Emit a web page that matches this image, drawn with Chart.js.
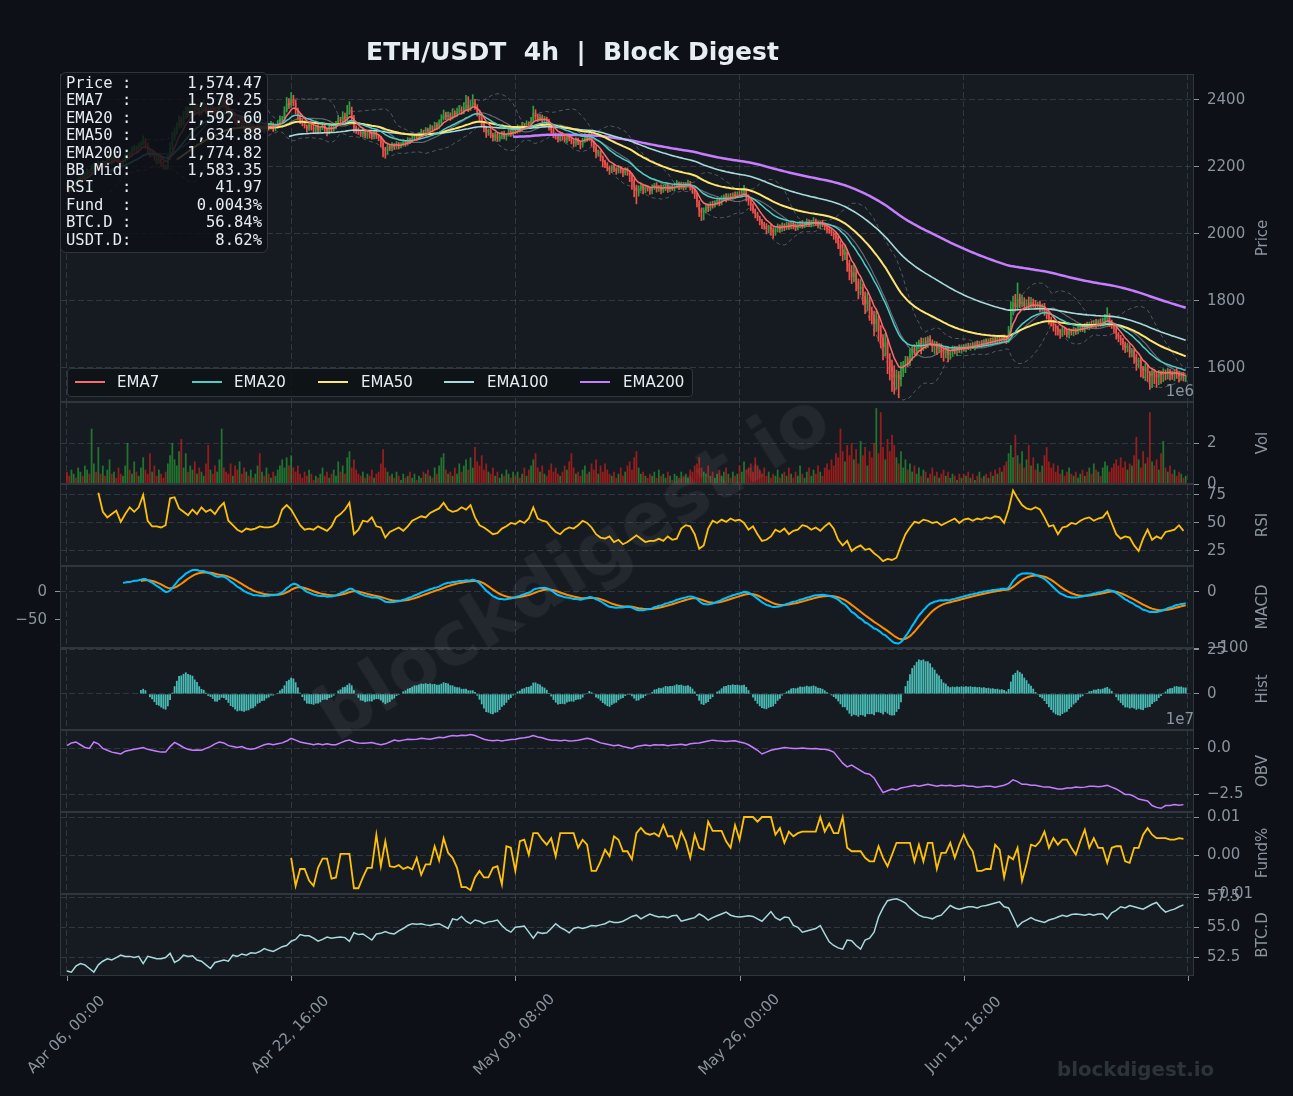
<!DOCTYPE html>
<html>
<head>
<meta charset="utf-8">
<script src="https://cdn.jsdelivr.net/npm/chart.js@4.4.1/dist/chart.umd.min.js"></script>
<style>
  html, body { margin: 0; padding: 0; background: #0d1117; }
  #wrap { position: relative; width: 1293px; height: 1096px; overflow: hidden; background: #0d1117; font-family: "DejaVu Sans", sans-serif; }
  #wrap canvas { position: absolute; left: 0; }
  #title { position: absolute; left: 0; width: 1145px; top: 36px; line-height: 32px; text-align: center; font-weight: bold; font-size: 25px; color: #e6edf3; white-space: pre; z-index: 5; }
  #info { position: absolute; left: 60px; top: 72px; margin: 0; padding: 2px 5px 3px 5px; font-family: "DejaVu Sans Mono", monospace; font-size: 15.5px; line-height: 17.4px; color: #e6edf3; background: rgba(13,17,23,0.84); border: 1px solid #30363d; border-radius: 6px; white-space: pre; z-index: 5; }
  #legend { position: absolute; left: 67px; top: 368px; width: 624px; height: 27px; background: rgba(13,17,23,0.8); border: 1px solid #30363d; border-radius: 4px; z-index: 5; }
  #legend .ln { position: absolute; width: 30px; }
  #legend .lt { position: absolute; top: 4px; font-size: 15px; line-height: 18px; color: #e6edf3; }
  #wm { position: absolute; left: 572px; top: 565px; transform: translate(-50%, -50%) rotate(-32deg); font-weight: bold; font-size: 74px; color: rgba(255,255,255,0.055); white-space: nowrap; z-index: 6; pointer-events: none; }
  #wm2 { position: absolute; left: 1057px; top: 1058px; line-height: 24px; font-weight: bold; font-size: 19.8px; color: #2d333b; z-index: 6; }
</style>
</head>
<body>
<div id="wrap">
  <div id="title">ETH/USDT  4h  |  Block Digest</div>
  <pre id="info"></pre>
  <div id="legend"></div>
  <div id="wm">blockdigest.io</div>
  <div id="wm2">blockdigest.io</div>
</div>
<script>
// ETH/USDT 4h candles (500)
const firstOpen = 2146;
const closes = [
  2140, 2132, 2145, 2152, 2148, 2160, 2171, 2165, 2178, 2186,
  2182, 2195, 2204, 2199, 2210, 2206, 2214, 2208, 2221, 2226,
  2218, 2230, 2224, 2212, 2208, 2219, 2232, 2240, 2236, 2251,
  2258, 2249, 2262, 2270, 2281, 2266, 2250, 2238, 2243, 2229,
  2218, 2224, 2210, 2203, 2198, 2226, 2258, 2287, 2305, 2322,
  2341, 2330, 2352, 2368, 2359, 2372, 2381, 2366, 2375, 2362,
  2370, 2384, 2371, 2363, 2377, 2368, 2359, 2372, 2390, 2401,
  2388, 2376, 2362, 2349, 2355, 2338, 2330, 2341, 2327, 2318,
  2325, 2316, 2322, 2309, 2318, 2326, 2314, 2320, 2311, 2324,
  2318, 2327, 2315, 2322, 2330, 2343, 2345, 2368, 2390, 2384,
  2402, 2391, 2370, 2352, 2338, 2330, 2322, 2314, 2326, 2318,
  2311, 2320, 2309, 2316, 2324, 2313, 2305, 2318, 2312, 2320,
  2328, 2342, 2336, 2351, 2345, 2362, 2370, 2348, 2318, 2310,
  2305, 2298, 2307, 2293, 2302, 2296, 2290, 2301, 2294, 2286,
  2272, 2255, 2248, 2262, 2257, 2266, 2259, 2270, 2262, 2268,
  2275, 2270, 2281, 2277, 2286, 2292, 2288, 2297, 2304, 2300,
  2311, 2306, 2318, 2314, 2325, 2320, 2331, 2344, 2356, 2349,
  2355, 2348, 2362, 2357, 2366, 2372, 2365, 2378, 2384, 2374,
  2386, 2392, 2380, 2362, 2348, 2329, 2316, 2302, 2310, 2296,
  2289, 2298, 2284, 2293, 2301, 2290, 2297, 2305, 2299, 2310,
  2306, 2318, 2312, 2324, 2319, 2330, 2326, 2338, 2362, 2351,
  2344, 2350, 2339, 2345, 2336, 2322, 2310, 2298, 2291, 2284,
  2296, 2289, 2280, 2292, 2285, 2278, 2270, 2281, 2273, 2266,
  2278, 2290, 2284, 2296, 2272, 2258, 2241, 2246, 2229, 2215,
  2208, 2196, 2190, 2202, 2195, 2188, 2197, 2190, 2183, 2192,
  2185, 2174, 2158, 2141, 2128, 2136, 2144, 2132, 2140, 2135,
  2128, 2139, 2146, 2134, 2141, 2130, 2137, 2145, 2133, 2140,
  2136, 2144, 2150, 2141, 2148, 2139, 2146, 2152, 2140, 2131,
  2118, 2096, 2072, 2064, 2070, 2081, 2077, 2090, 2086, 2095,
  2101, 2094, 2106, 2112, 2105, 2114, 2109, 2118, 2113, 2120,
  2116, 2124, 2130, 2112, 2098, 2085, 2072, 2060, 2049, 2038,
  2030, 2024, 2016, 2022, 2011, 2005, 2014, 2021, 2015, 2026,
  2019, 2028, 2022, 2031, 2025, 2018, 2027, 2033, 2024, 2030,
  2036, 2028, 2035, 2041, 2032, 2026, 2034, 2029, 2021, 2015,
  2012, 2003, 1996, 1988, 1970, 1955, 1938, 1946, 1910, 1888,
  1872, 1885, 1858, 1836, 1842, 1815, 1790, 1804, 1772, 1758,
  1731, 1746, 1712, 1690, 1662, 1675, 1628, 1604, 1589, 1572,
  1580, 1566, 1592, 1608, 1626, 1619, 1641, 1658, 1650, 1668,
  1676, 1662, 1681, 1670, 1688, 1679, 1664, 1672, 1658, 1667,
  1651, 1645, 1656, 1640, 1648, 1659, 1652, 1661, 1655, 1664,
  1658, 1667, 1662, 1670, 1664, 1673, 1668, 1676, 1671, 1680,
  1674, 1683, 1678, 1686, 1681, 1690, 1684, 1693, 1688, 1682,
  1712, 1768, 1795, 1782, 1806, 1790, 1798, 1785, 1794, 1788,
  1797, 1791, 1784, 1790, 1779, 1785, 1772, 1760, 1748, 1737,
  1726, 1718, 1712, 1706, 1715, 1709, 1701, 1712, 1706, 1714,
  1708, 1717, 1723, 1716, 1728, 1722, 1731, 1726, 1735, 1729,
  1738, 1732, 1741, 1748, 1752, 1736, 1728, 1718, 1702, 1690,
  1684, 1672, 1660, 1665, 1648, 1652, 1634, 1618, 1624, 1601,
  1592, 1603, 1585, 1576, 1590, 1581, 1572, 1586, 1579, 1588,
  1582, 1591, 1584, 1578, 1590, 1583, 1576, 1580, 1571, 1574.47
];
// wick length above / below the body
const wickUp = [
  6,4,8,5,3,7,9,4,6,8,5,10,7,4,9,5,6,3,8,7,4,9,5,3,6,
  5,8,10,4,9,7,5,8,6,12,4,6,5,7,3,5,8,4,6,3,9,14,16,12,10,
  12,8,15,11,9,14,18,7,12,10,8,16,6,9,13,7,10,8,15,20,9,6,8,5,7,
  6,9,5,8,4,7,5,9,6,4,8,10,5,7,4,6,9,5,7,8,10,6,12,18,14,
  20,12,8,6,7,5,8,4,6,5,7,4,6,5,8,4,3,6,5,7,8,12,6,14,10,
  22,25,9,6,5,7,4,8,5,6,4,7,5,6,3,5,8,4,6,5,7,4,6,3,5,
  6,4,7,5,8,4,6,5,9,6,7,5,8,4,9,6,10,12,14,8,9,7,12,6,10,
  11,8,14,30,26,12,24,10,6,8,5,7,6,4,8,5,6,4,7,5,6,3,8,5,7,
  6,8,5,9,6,8,5,10,20,9,7,8,5,6,4,7,5,6,4,8,5,7,4,6,5,
  6,4,7,5,3,8,10,6,12,5,4,6,5,3,4,6,5,7,4,6,3,8,5,4,6,
  5,4,6,7,5,8,9,5,7,4,6,8,5,7,4,6,9,5,7,4,6,8,10,5,7,
  6,8,9,5,4,3,5,4,6,8,7,9,6,8,5,7,6,8,5,9,6,7,5,8,6,
  7,10,15,6,5,4,6,3,5,4,6,5,7,4,6,8,5,9,6,7,5,8,6,7,5,
  6,8,5,7,4,9,6,5,8,4,6,5,7,4,3,5,6,4,8,5,10,15,20,8,12,
  18,25,10,8,22,9,12,20,8,10,12,24,9,15,10,28,12,15,20,18,14,10,25,12,9,
  8,15,10,12,9,7,14,8,10,6,9,5,8,6,7,5,9,6,8,5,7,6,4,8,5,
  6,5,7,4,6,5,8,4,6,5,7,4,6,5,8,4,7,5,6,4,12,30,20,25,48,
  15,20,12,10,18,14,9,11,7,10,6,8,5,7,4,6,5,8,4,9,5,7,6,4,8,
  5,7,6,8,5,9,6,8,7,10,6,9,8,12,28,10,7,6,5,4,8,5,6,9,5,
  7,5,8,6,9,4,10,7,5,8,6,9,7,5,10,6,8,5,7,4,9,6,5,7,4
];
const wickDn = [
  8,12,6,9,5,4,7,6,5,8,9,4,6,7,5,8,6,9,4,5,10,6,8,12,7,
  6,5,8,7,4,6,9,5,7,4,10,12,8,6,9,10,7,8,9,6,5,4,6,8,7,
  6,12,5,8,10,7,6,11,5,9,7,5,10,8,6,9,12,5,7,6,10,8,12,9,7,
  10,8,6,9,12,7,10,5,12,6,8,9,7,10,6,8,5,9,7,6,5,8,6,4,9,
  6,8,12,10,9,7,6,10,5,8,9,6,10,7,5,9,12,6,8,5,6,4,7,5,8,
  6,5,9,15,10,8,7,9,6,8,10,7,6,9,8,12,25,22,10,8,9,7,6,8,5,
  6,8,5,7,4,6,8,5,6,4,7,5,6,8,4,7,5,6,4,8,6,9,5,7,6,
  5,8,6,7,9,6,5,8,10,12,9,11,14,8,9,12,10,8,7,9,6,10,5,8,6,
  7,5,8,4,6,5,7,4,6,9,8,6,10,7,8,12,9,11,8,10,7,9,6,8,7,
  9,10,8,6,12,7,5,8,6,10,12,14,9,11,15,10,8,12,7,9,10,6,8,12,7,
  10,18,25,30,38,15,8,12,9,7,10,8,6,9,7,10,6,8,9,7,6,8,5,9,7,
  8,6,5,9,10,12,15,20,24,22,8,10,7,9,6,8,10,7,6,9,5,8,6,7,5,
  6,5,8,14,12,15,10,12,9,11,14,10,16,12,15,18,9,8,10,7,9,6,8,7,10,
  8,6,9,7,5,8,6,7,9,6,8,10,7,9,12,10,8,12,15,14,20,18,15,22,25,
  20,15,28,30,18,25,28,20,30,26,35,22,32,30,38,25,45,40,59,50,35,55,20,18,22,
  15,12,18,10,14,12,20,10,12,9,11,15,22,18,12,20,25,15,22,14,12,10,15,9,11,
  8,10,7,9,6,10,8,7,9,6,8,7,9,5,8,6,10,7,8,9,6,8,10,12,9,
  10,8,12,9,11,8,10,7,9,12,10,15,14,18,12,16,20,14,18,12,10,9,12,8,10,
  8,6,9,7,10,6,8,7,5,9,6,8,7,9,6,12,10,14,16,12,15,18,14,12,16,
  15,20,25,18,28,22,30,25,40,35,28,30,22,25,20,18,15,20,12,16,14,18,12,10,12
];
// volume, millions
const volumes = [
  0.6,0.4,0.7,0.5,0.3,0.8,0.6,0.4,0.9,0.7,0.5,2.7,1.0,0.6,1.8,0.5,0.9,0.4,0.7,1.2,0.5,0.6,0.3,0.8,0.5,
  0.4,0.9,2.0,0.7,0.5,1.1,0.6,0.4,0.8,1.3,0.7,0.5,1.5,0.6,0.9,0.4,0.7,0.5,0.3,0.6,1.0,1.4,2.0,1.2,0.9,
  1.6,2.2,0.8,1.5,0.6,0.9,0.7,1.1,0.5,0.8,0.6,0.4,1.0,1.9,0.7,0.5,0.9,0.6,1.2,2.7,0.8,0.6,0.5,1.0,0.4,
  0.9,0.7,1.1,0.5,0.8,0.6,0.4,0.7,0.3,0.5,0.9,1.5,0.6,0.4,0.8,0.5,0.3,0.6,0.4,0.7,0.9,1.2,0.8,1.3,0.9,
  1.4,0.8,0.6,0.9,0.5,0.3,0.6,0.4,0.7,0.5,0.2,0.4,0.3,0.5,0.8,0.4,0.6,0.3,0.5,0.7,0.4,1.1,0.6,0.9,0.5,
  1.3,1.6,0.8,1.2,0.7,0.5,0.4,0.6,0.3,0.5,0.4,0.7,0.3,0.5,0.6,1.0,1.7,0.8,0.6,0.4,0.5,0.3,0.6,0.4,0.2,
  0.5,0.3,0.4,0.6,0.3,0.5,0.2,0.4,0.3,0.6,0.5,0.7,0.4,0.3,0.8,0.5,0.9,1.3,1.5,0.7,0.5,0.6,0.4,0.8,0.5,
  1.0,0.6,0.9,1.2,0.7,1.3,0.8,1.8,1.1,0.9,1.4,0.7,1.0,0.6,0.5,0.8,0.4,0.6,0.3,0.5,0.4,0.7,0.5,0.3,0.6,
  0.4,0.6,0.3,0.5,0.8,0.4,0.7,0.9,1.2,1.5,0.8,0.6,0.9,0.5,0.4,0.7,1.0,0.6,0.8,0.5,0.4,0.6,0.9,0.7,1.1,
  1.5,0.8,0.5,0.6,0.4,0.7,0.9,0.5,0.6,1.0,0.7,1.2,0.5,0.9,0.6,1.0,0.7,0.5,0.4,0.6,0.3,0.5,0.8,0.4,0.6,
  0.9,1.1,0.7,1.3,1.6,0.8,0.5,0.6,0.4,0.3,0.5,0.4,0.6,0.3,0.7,0.4,0.5,0.3,0.6,0.4,0.2,0.5,0.4,0.3,0.6,
  0.4,0.5,0.3,0.7,0.6,0.9,1.0,1.3,0.8,0.6,0.5,0.9,0.4,0.6,0.3,0.5,0.7,0.4,0.6,0.8,0.5,0.3,0.6,0.4,0.5,
  0.9,0.6,1.1,0.7,0.8,1.0,0.6,1.3,0.9,0.7,0.5,0.8,0.4,0.6,0.3,0.5,0.4,0.7,0.3,0.5,0.6,0.4,0.8,0.5,0.3,
  0.6,0.4,0.9,0.5,0.3,0.6,0.8,0.4,0.7,0.5,0.9,0.6,0.4,0.8,1.0,0.7,1.2,0.9,1.5,1.3,2.7,1.6,1.1,1.9,1.4,
  2.0,1.2,1.7,1.0,2.1,1.4,1.8,0.9,1.6,1.3,2.0,3.7,1.5,3.5,1.8,1.2,2.2,1.6,2.4,1.9,1.3,1.0,1.6,0.8,1.2,
  0.7,1.0,0.6,0.9,0.5,0.8,0.4,0.7,0.6,0.3,0.5,0.8,0.4,0.6,0.3,0.5,0.7,0.4,0.6,0.3,0.5,0.4,0.2,0.5,0.3,
  0.5,0.4,0.6,0.3,0.5,0.2,0.4,0.6,0.3,0.4,0.5,0.3,0.6,0.4,0.7,0.5,0.8,0.6,0.9,1.1,1.5,1.9,1.3,2.4,1.4,
  1.0,1.6,0.8,1.2,1.9,0.9,1.3,0.7,1.0,0.6,0.9,1.4,1.8,1.1,0.8,1.0,0.6,0.9,0.5,0.7,0.4,0.6,0.8,0.5,0.4,
  0.6,0.3,0.5,0.7,0.4,0.6,0.8,0.5,1.0,0.7,0.6,0.4,0.8,1.1,0.9,0.6,0.8,1.0,1.2,0.9,1.3,0.8,1.1,0.7,1.0,
  0.9,1.4,2.3,1.2,0.8,1.6,1.0,1.3,3.5,1.1,0.9,1.2,0.7,1.5,2.1,0.8,0.6,0.9,0.5,0.7,0.4,0.6,0.5,0.3,0.4
];
// RSI(14), one value every 2 candles from candle 14
const rsiStart = 14;
const rsiLine = [
  77,60,55,58,61,51,58,64,60,64,75,52,47,47,46,48,72,73,
  63,60,57,62,58,64,60,62,58,64,68,52,48,44,42,45,44,45,47,46,46,47,50,62,66,
  62,55,48,44,45,44,47,45,43,47,55,58,62,68,40,44,52,51,55,47,46,37,42,44,46,43,47,
  52,54,56,55,59,61,63,68,62,60,61,64,62,66,55,48,46,43,40,41,45,47,50,
  49,52,50,54,64,54,52,51,46,42,40,44,46,45,48,52,50,46,40,37,36,38,33,35,31,33,36,39,
  36,33,34,34,36,34,38,35,36,45,48,47,40,27,30,45,52,50,53,51,54,52,53,
  50,44,47,40,34,35,38,44,42,45,40,43,44,48,47,44,46,43,47,50,
  45,35,30,34,25,28,30,26,27,23,20,16,18,17,19,30,40,46,51,
  50,53,52,50,51,48,50,52,54,50,53,54,52,54,53,55,54,56,55,50,
  62,79,72,66,63,62,64,62,55,47,48,40,46,47,50,49,52,54,55,52,54,55,60,50,40,36,
  38,37,30,25,36,44,35,38,36,42,43,44,48,43
];
// OBV, units of 1e7, one value every 2 candles
const obvLine = [
  0.15,0.3,0.35,0.2,0.05,0.0,0.35,0.25,0.0,-0.1,-0.2,-0.25,-0.3,-0.15,-0.1,-0.05,0.0,0.05,-0.05,-0.1,-0.15,-0.2,-0.2,0.1,0.33,
  0.2,0.05,-0.05,-0.1,-0.08,-0.1,0.0,0.1,0.25,0.35,0.3,0.15,0.1,0.05,0.1,0.0,-0.05,0.0,0.1,0.2,0.25,0.2,0.25,0.3,0.4,
  0.55,0.45,0.35,0.3,0.25,0.2,0.25,0.2,0.25,0.2,0.2,0.3,0.4,0.45,0.35,0.3,0.28,0.3,0.32,0.25,0.2,0.25,0.35,0.45,0.4,
  0.45,0.5,0.48,0.5,0.55,0.52,0.5,0.55,0.6,0.58,0.65,0.7,0.68,0.72,0.7,0.75,0.7,0.6,0.5,0.45,0.42,0.45,0.4,0.45,0.48,
  0.5,0.55,0.58,0.62,0.7,0.62,0.58,0.5,0.45,0.45,0.42,0.45,0.4,0.42,0.45,0.5,0.55,0.5,0.4,0.3,0.25,0.2,0.15,0.18,0.1,
  0.05,0.0,0.1,0.15,0.18,0.15,0.2,0.18,0.2,0.15,0.18,0.2,0.22,0.18,0.25,0.28,0.3,0.35,0.4,0.45,0.42,0.4,0.38,0.4,0.42,
  0.35,0.3,0.2,0.05,-0.1,-0.3,-0.2,-0.1,-0.05,0.0,0.05,0.02,0.0,0.0,0.02,0.0,-0.02,0.0,-0.05,-0.05,-0.1,-0.2,-0.5,-0.8,-1.0,
  -0.9,-1.05,-1.2,-1.35,-1.4,-1.6,-2.0,-2.4,-2.3,-2.2,-2.25,-2.15,-2.1,-2.05,-2.0,-2.05,-2.0,-1.95,-2.0,-2.05,-2.0,-2.02,-2.0,-2.05,-2.02,
  -2.0,-2.05,-2.05,-2.1,-2.08,-2.05,-2.05,-2.1,-2.05,-2.0,-1.9,-1.7,-1.8,-1.95,-1.95,-2.0,-2.0,-2.05,-2.1,-2.1,-2.15,-2.2,-2.2,-2.15,-2.15,
  -2.1,-2.12,-2.1,-2.05,-2.05,-2.08,-2.05,-2.0,-2.1,-2.2,-2.35,-2.5,-2.5,-2.6,-2.75,-2.8,-2.85,-3.1,-3.2,-3.25,-3.1,-3.1,-3.05,-3.08,-3.05
];
// funding rate in units of 0.0001 %, every 2 candles from candle 100
const fundStart = 100;
const fundBp = [
  -6,-79,-35,-35,-65,-79,-32,-8,-8,-60,-57,4,4,4,-85,-85,-57,-32,-32,54,
  -28,37,-28,-30,-25,-35,-30,-36,-6,-50,-23,-23,24,-13,45,7,-6,-32,-82,-82,
  -90,-57,-40,-57,-57,-32,-28,-75,24,20,-40,37,41,2,58,58,41,28,45,-2,
  58,58,58,58,20,41,28,-40,-40,-15,15,-2,50,41,11,11,-10,58,72,58,
  54,58,50,79,50,50,20,62,37,-6,54,20,15,88,64,64,64,37,20,79,
  41,100,100,100,88,100,100,100,54,71,33,62,50,58,62,62,62,62,100,62,
  83,58,58,100,20,11,11,11,-6,-15,-15,24,-6,-28,2,33,33,33,33,-15,
  28,-15,33,33,-35,7,7,33,-6,28,54,28,11,-40,-40,-35,-35,28,15,-57,
  -2,-10,20,-66,-23,28,24,37,62,20,45,28,41,41,20,2,37,67,20,45,
  20,20,-19,20,24,24,-15,-19,20,20,54,71,54,45,45,45,41,41,45,43
];
// BTC dominance %, every 2 candles
const btcDom = [
  51.4,51.3,51.8,52.0,51.9,51.6,51.3,51.9,52.2,52.4,52.3,52.5,52.7,52.6,52.6,52.5,52.6,52.0,52.6,52.5,52.4,52.4,52.5,52.85,52.1,
  52.3,52.7,52.6,52.65,52.3,52.2,51.9,51.6,52.1,52.2,52.3,52.2,52.7,52.6,52.8,52.7,52.9,52.85,53.0,53.25,53.1,53.0,53.2,53.4,53.5,
  53.85,54.0,54.4,54.3,54.3,54.1,53.85,54.0,54.2,54.1,54.15,54.2,54.15,53.85,54.55,54.4,54.45,54.2,53.95,54.45,54.5,54.65,54.5,54.45,54.7,
  54.9,55.15,55.3,55.25,55.3,55.2,55.15,55.25,55.3,55.1,54.9,55.7,55.6,55.9,55.5,55.3,55.6,55.5,55.3,55.45,55.5,55.6,55.15,54.8,54.6,
  55.0,55.05,55.1,54.6,54.1,54.6,54.5,54.55,54.9,55.3,55.0,54.8,54.55,54.9,55.0,54.9,55.0,55.15,55.1,55.2,55.3,55.5,55.4,55.4,55.5,
  55.7,55.9,56.0,55.7,55.9,56.1,55.95,55.85,55.9,55.8,55.95,56.0,55.5,55.6,55.7,55.8,56.1,55.9,55.6,55.8,55.95,56.1,56.25,56.0,55.9,
  55.85,55.9,55.95,55.9,55.7,55.5,55.9,56.3,55.8,55.6,55.85,55.8,55.15,55.0,54.6,54.7,54.8,54.9,55.15,54.45,53.8,53.5,53.3,53.2,53.95,
  53.9,53.5,53.2,53.95,54.1,54.6,55.85,56.6,57.2,57.3,57.35,57.2,57.0,56.6,56.3,56.0,55.85,55.8,55.7,55.9,56.0,56.4,56.8,56.6,56.5,
  56.6,56.7,56.7,56.6,56.75,56.8,56.9,57.0,57.1,56.7,56.6,55.85,55.05,55.4,55.6,55.8,55.6,55.5,55.4,55.6,55.7,55.85,56.0,55.9,56.05,
  56.1,56.05,56.0,56.1,56.0,56.1,56.1,55.7,56.2,56.4,56.7,56.6,56.8,56.7,56.6,56.5,56.7,56.9,57.05,56.6,56.25,56.4,56.5,56.7,56.85
];
const xTickPos = [0, 100, 200, 300, 400, 500];
const xTickLabels = ['Apr 06, 00:00', 'Apr 22, 16:00', 'May 09, 08:00', 'May 26, 00:00', 'Jun 11, 16:00', ''];
const emaSpans = [7, 20, 50, 100, 200];
const emaColors = ['#ff6b6b', '#4ecdc4', '#ffe66d', '#a8dadc', '#c77dff'];
const emaWidths = [1.5, 1.5, 2, 1.6, 2.5];
const infoRows = [
  'Price :      1,574.47',
  'EMA7  :      1,578.25',
  'EMA20 :      1,592.60',
  'EMA50 :      1,634.88',
  'EMA200:      1,774.82',
  'BB Mid:      1,583.35',
  'RSI   :         41.97',
  'Fund  :       0.0043%',
  'BTC.D :        56.84%',
  'USDT.D:         8.62%'
];

// ---- layout / style ----
const FONT = '"DejaVu Sans", sans-serif';
const PANEL_L = 60, PANEL_R = 1194, AXIS_W = 60, PAD = 22;
const XMIN = -3.1, XMAX = 502.7;
const PANEL_BG = '#161b22', GRID = 'rgba(110,118,129,0.38)', FRAME = '#30363d', TXT = '#8b949e';
const UP = '#2ea043', DOWN = '#f0524a';
const minus = v => (v < 0 ? '\u2212' : '') + Math.abs(v);

// ---- indicators ----
const n = closes.length;
const idx = closes.map((_, i) => i);
const opens = closes.map((c, i) => (i === 0 ? firstOpen : closes[i - 1]));
const highs = closes.map((c, i) => Math.max(c, opens[i]) + wickUp[i]);
const lows = closes.map((c, i) => Math.min(c, opens[i]) - wickDn[i]);
const isUp = closes.map((c, i) => c >= opens[i]);

function ema(src, span) {
  const a = 2 / (span + 1);
  let p = null;
  return src.map(v => (p = p === null ? v : a * v + (1 - a) * p));
}
function pts(arr, from, step, x0) {
  step = step || 1; x0 = x0 || 0;
  const r = [];
  arr.forEach((v, i) => { const x = x0 + i * step; if (x >= from && v !== null) r.push({ x, y: v }); });
  return r;
}

const bbMid = [], bbUp = [], bbLo = [];
for (let i = 0; i < n; i++) {
  if (i < 19) { bbMid.push(null); bbUp.push(null); bbLo.push(null); continue; }
  const w = closes.slice(i - 19, i + 1);
  const m = w.reduce((a, b) => a + b, 0) / 20;
  const sd = Math.sqrt(w.reduce((a, b) => a + (b - m) * (b - m), 0) / 19);
  bbMid.push(m); bbUp.push(m + 2 * sd); bbLo.push(m - 2 * sd);
}
const e12 = ema(closes, 12), e26 = ema(closes, 26);
const macd = e12.map((v, i) => v - e26[i]);
const signal = ema(macd, 9);
const hist = macd.map((v, i) => v - signal[i]);

// ---- chart plumbing ----
const wrap = document.getElementById('wrap');
function canvasFor(top, h, padBot) {
  const c = document.createElement('canvas');
  c.width = 1293; c.height = h + PAD + padBot;
  c.style.top = (top - PAD) + 'px';
  wrap.appendChild(c);
  return c;
}

const deco = {
  id: 'deco',
  beforeDraw(c) {
    const a = c.chartArea, ctx = c.ctx;
    ctx.save(); ctx.fillStyle = PANEL_BG;
    ctx.fillRect(a.left, a.top, a.right - a.left, a.bottom - a.top);
    ctx.restore();
  },
  afterDraw(c, args, o) {
    const a = c.chartArea, ctx = c.ctx;
    ctx.save();
    ctx.strokeStyle = FRAME; ctx.lineWidth = 1;
    ctx.strokeRect(a.left + 0.5, a.top + 0.5, a.right - a.left - 1, a.bottom - a.top - 1);
    ctx.fillStyle = TXT; ctx.font = '15px ' + FONT;
    if (o.title) {
      ctx.save();
      ctx.translate(1263, (a.top + a.bottom) / 2); ctx.rotate(-Math.PI / 2);
      ctx.textAlign = 'center'; ctx.textBaseline = 'middle';
      ctx.fillText(o.title, 0, 0);
      ctx.restore();
    }
    if (o.offset) {
      ctx.textAlign = 'right'; ctx.textBaseline = 'middle';
      ctx.fillText(o.offset, a.right, a.top - 10);
    }
    if (o.xLabels) {
      const xs = c.scales.x;
      ctx.strokeStyle = TXT;
      xTickPos.forEach((v, k) => {
        const px = Math.round(xs.getPixelForValue(v)) + 0.5;
        ctx.beginPath(); ctx.moveTo(px, a.bottom); ctx.lineTo(px, a.bottom + 5); ctx.stroke();
        if (!xTickLabels[k]) return;
        ctx.save();
        ctx.translate(px - 1, a.bottom + 59); ctx.rotate(-Math.PI / 4);
        ctx.textAlign = 'center'; ctx.textBaseline = 'middle';
        ctx.fillText(xTickLabels[k], 0, 0);
        ctx.restore();
      });
    }
    ctx.restore();
  }
};

function xAxis() {
  return {
    type: 'linear', min: XMIN, max: XMAX, offset: false,
    afterBuildTicks: s => { s.ticks = xTickPos.map(v => ({ value: v })); },
    afterFit: s => { s.height = 0; },
    ticks: { display: false },
    grid: { color: GRID, lineWidth: 0.8, drawTicks: false, offset: false },
    border: { display: false, dash: [6, 3] }
  };
}
function yAxis(pos, min, max, ticks, fmt, gridOn) {
  return {
    position: pos, min, max,
    afterBuildTicks: s => { s.ticks = ticks.map(v => ({ value: v })); },
    afterFit: s => { s.width = AXIS_W; },
    ticks: { color: TXT, font: { family: FONT, size: 15 }, padding: 8, autoSkip: false, maxRotation: 0, callback: v => fmt(v) },
    grid: { color: GRID, lineWidth: 0.8, drawOnChartArea: gridOn !== false, drawTicks: true, tickLength: 5, tickColor: TXT, tickWidth: 1 },
    border: { display: false, dash: [6, 3] }
  };
}
function options(scales, decoOpts, leftPad, padBot) {
  return {
    responsive: false, animation: false, events: [],
    layout: { padding: { left: leftPad, right: 1293 - PANEL_R - AXIS_W, top: PAD, bottom: padBot } },
    plugins: { legend: { display: false }, tooltip: { enabled: false }, deco: decoOpts },
    scales: Object.assign({ x: xAxis() }, scales)
  };
}
function line(data, color, width, order, extra) {
  return Object.assign({ type: 'line', data, borderColor: color, borderWidth: width, pointRadius: 0, tension: 0, fill: false, order, parsing: false }, extra || {});
}
function panel(top, h, type, datasets, scales, decoOpts, leftPad, padBot) {
  leftPad = leftPad === undefined ? PANEL_L : leftPad;
  padBot = padBot === undefined ? PAD : padBot;
  return new Chart(canvasFor(top, h, padBot), {
    type, data: { datasets }, options: options(scales, decoOpts, leftPad, padBot), plugins: [deco]
  });
}

// ---- price ----
const candleCol = isUp.map(u => (u ? UP : DOWN));
const priceSets = emaSpans.map((s, k) => line(pts(ema(closes, s), s - 1), emaColors[k], emaWidths[k], k));
priceSets.push(
  { type: 'bar', data: idx.map(i => ({ x: i, y: [opens[i], closes[i]] })), backgroundColor: candleCol, barPercentage: 0.7, categoryPercentage: 1, grouped: false, order: 5 },
  { type: 'bar', data: idx.map(i => ({ x: i, y: [lows[i], highs[i]] })), backgroundColor: candleCol, barThickness: 1, grouped: false, order: 6 },
  line(pts(bbMid, 19), 'rgba(139,148,158,0.65)', 1.2, 7),
  line(pts(bbUp, 19), 'rgba(139,148,158,0.5)', 1, 8, { borderDash: [4, 3] }),
  line(pts(bbLo, 19), 'rgba(139,148,158,0.5)', 1, 9, { borderDash: [4, 3] })
);
panel(74, 328, 'bar', priceSets,
  { y: yAxis('right', 1498.5, 2477.6, [1600, 1800, 2000, 2200, 2400], v => String(v)) }, { title: 'Price' });

// ---- volume ----
panel(402, 82, 'bar', [{
  data: idx.map(i => ({ x: i, y: volumes[i] })),
  backgroundColor: isUp.map(u => (u ? 'rgba(40,170,55,0.62)' : 'rgba(218,30,25,0.65)')),
  barPercentage: 0.8, categoryPercentage: 1
}], { y: yAxis('right', 0, 4.0, [0, 2], v => String(v)) }, { title: 'Vol', offset: '1e6' });

// ---- RSI ----
panel(484, 82, 'line', [line(pts(rsiLine, rsiStart, 2, rsiStart), '#ffc107', 1.8, 0)],
  { y: yAxis('right', 11.6, 84.8, [25, 50, 75], v => String(v)) }, { title: 'RSI' });

// ---- MACD ----
panel(566, 82, 'line', [
  line(pts(macd, 25), '#00bfff', 2, 0),
  line(pts(signal, 33), '#ff8c00', 2, 1)
], {
  y: yAxis('right', -100, 46, [0, -100], minus),
  yl: yAxis('left', -100, 46, [0, -50], minus, false)
}, { title: 'MACD' }, 0);

// ---- histogram ----
panel(648, 82, 'bar', [{
  data: pts(hist, 33), backgroundColor: 'rgba(78,205,196,0.9)', barPercentage: 0.8, categoryPercentage: 1
}], { y: yAxis('right', -20.5, 26.1, [0, 25], minus) }, { title: 'Hist' });

// ---- OBV ----
panel(730, 82, 'line', [line(pts(obvLine, 0, 2), '#c77dff', 1.5, 0)],
  { y: yAxis('right', -3.45, 1.0, [0, -2.5], v => (v < 0 ? '\u2212' : '') + Math.abs(v).toFixed(1)) }, { title: 'OBV', offset: '1e7' });

// ---- funding ----
panel(812, 82, 'line', [line(pts(fundBp.map(v => v / 10000), fundStart, 2, fundStart), '#ffc107', 1.8, 0)],
  { y: yAxis('right', -0.01, 0.0113, [-0.01, 0, 0.01], v => (v < 0 ? '\u2212' : '') + Math.abs(v).toFixed(2)) }, { title: 'Fund%' });

// ---- BTC dominance ----
panel(894, 82, 'line', [line(pts(btcDom, 0, 2), '#a8dadc', 1.5, 0)],
  { y: yAxis('right', 50.98, 57.75, [52.5, 55, 57.5], v => v.toFixed(1)) }, { title: 'BTC.D', xLabels: true }, PANEL_L, 1096 - 976);

// ---- overlays: info box, legend ----
document.getElementById('info').textContent = infoRows.join('\n');
const legend = document.getElementById('legend');
const legendX = [[7, 49], [124, 166], [250, 293], [376, 419], [512, 555]];
emaSpans.forEach((s, k) => {
  const ln = document.createElement('span');
  ln.className = 'ln';
  ln.style.left = legendX[k][0] + 'px';
  ln.style.top = (13 - emaWidths[k] / 2) + 'px';
  ln.style.height = emaWidths[k] + 'px';
  ln.style.background = emaColors[k];
  const tx = document.createElement('span');
  tx.className = 'lt';
  tx.style.left = legendX[k][1] + 'px';
  tx.textContent = 'EMA' + s;
  legend.appendChild(ln); legend.appendChild(tx);
});
</script>
</body>
</html>
